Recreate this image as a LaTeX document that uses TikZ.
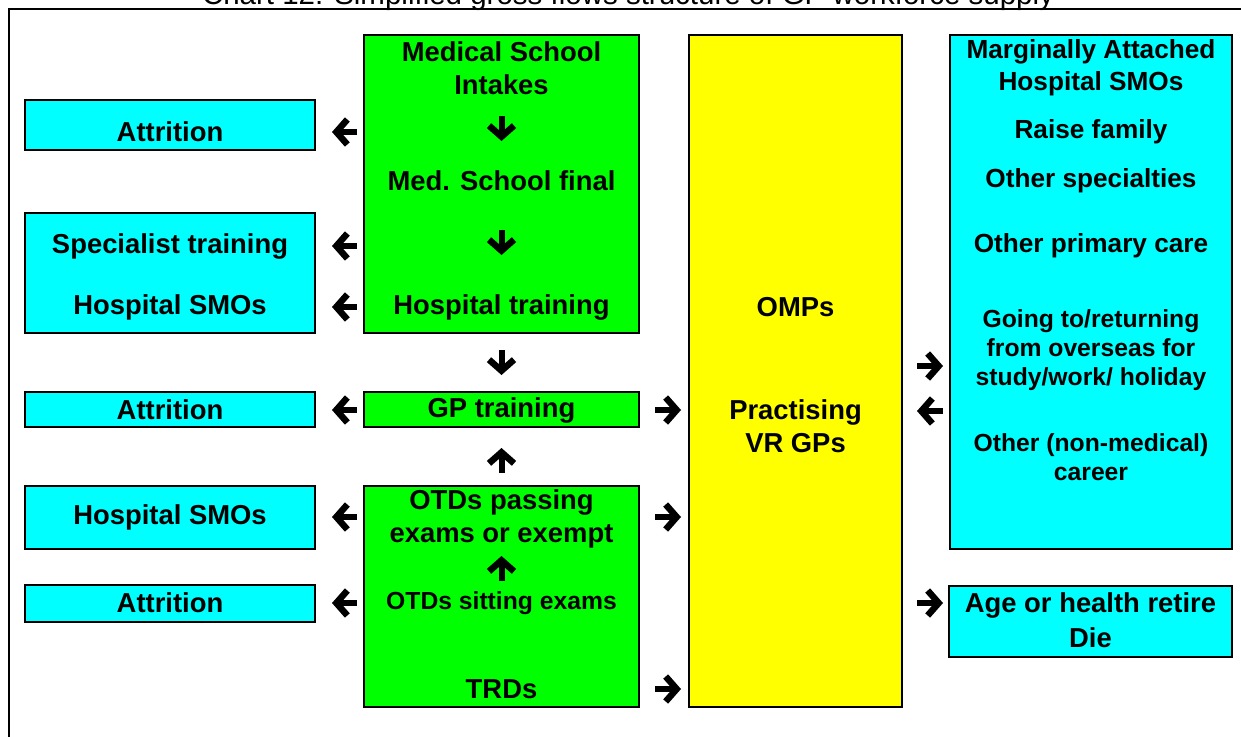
\documentclass[tikz,border=0pt]{standalone}
\usepackage{fontspec}
\setmainfont{Liberation Sans}
\usetikzlibrary{arrows.meta}
\definecolor{boxgreen}{HTML}{00FF00}
\definecolor{boxcyan}{HTML}{00FFFF}
\definecolor{boxyellow}{HTML}{FFFF00}

\begin{document}
\begin{tikzpicture}[x=1pt, y=-1pt,
    box/.style={draw, line width=2pt, inner sep=0pt},
    gbox/.style={box, fill=boxgreen, minimum width=275pt},
    lbox/.style={box, fill=boxcyan, minimum width=290pt},
    lbl/.style={font=\bfseries\fontsize{27.4}{32.5}\selectfont, align=center, inner sep=0pt},
    rlbl/.style={font=\bfseries\fontsize{26.2}{32}\selectfont, align=center, inner sep=0pt},
    sml/.style={font=\bfseries\fontsize{24.7}{29}\selectfont, align=center, inner sep=0pt},
    flow/.style={line width=6pt, -{Straight Barb[length=11pt, width=25pt, line width=6.5pt]}}]
  \useasboundingbox (0,0) rectangle (1241,736);
  % frame and title
  \draw[line width=2.5pt] (9,9) rectangle (1260,760);
  \node[anchor=base, inner sep=0pt, font=\fontsize{29.5}{34}\selectfont] (title) at (628,5)
    {Chart 12: Simplified gross flows structure of GP workforce supply};

  % green column
  \node[gbox, minimum height=298pt] (g1) at (501.5,184) {};
  \node[gbox, minimum height=35pt] (g2) at (501.5,409.5) {};
  \node[gbox, minimum height=221pt] (g3) at (501.5,596.5) {};
  \node[lbl] (intake) at (501.5,68) {Medical School\\Intakes};
  \node[lbl] (final) at (501.5,181) {Med. School final};
  \node[lbl] (hosp) at (501.5,307) {Hospital training};
  \node[lbl] (gp) at (501.5,410) {GP training};
  \node[lbl] (pass) at (501.5,519) {OTDs passing\\exams or exempt};
  \node[sml] (sit) at (501.5,603) {OTDs sitting exams};
  \node[lbl] (trd) at (501.5,689) {TRDs};

  % yellow column
  \node[box, fill=boxyellow, minimum width=213pt, minimum height=672pt] (yel) at (795.5,371) {};
  \node[lbl] (omp) at (795.5,307) {OMPs};
  \node[lbl, text depth=0pt] (vr) at (795.5,426) {Practising\\VR GPs};

  % left column
  \node[lbox, minimum height=50pt] (boxAttA) at (170,125) {};
  \node[lbox, minimum height=120pt] (boxSpec) at (170,273) {};
  \node[lbox, minimum height=35pt] (boxAttB) at (170,409.5) {};
  \node[lbox, minimum height=63pt] (boxHsmo) at (170,517.5) {};
  \node[lbox, minimum height=37pt] (boxAttC) at (170,603.5) {};
  \node[lbl] (attA) at (170,132) {Attrition};
  \node[lbl] (spec) at (170,246) {Specialist training};
  \node[lbl] (hsmoA) at (170,307) {Hospital SMOs};
  \node[lbl] (attB) at (170,410) {Attrition};
  \node[lbl] (hsmoB) at (170,517) {Hospital SMOs};
  \node[lbl] (attC) at (170,603) {Attrition};

  % right column
  \node[box, fill=boxcyan, minimum width=282pt, minimum height=514pt] (mag) at (1091,292) {};
  \node[box, fill=boxcyan, minimum width=283pt, minimum height=71pt] (age) at (1090.5,621.5) {};
  \node[rlbl] (marg) at (1091,68) {Marginally Attached\\Hospital SMOs};
  \node[rlbl] (family) at (1091,132) {Raise family};
  \node[rlbl] (otherspec) at (1091,181) {Other specialties};
  \node[rlbl] (primary) at (1091,246) {Other primary care};
  \node[sml] (going) at (1091,350) {Going to/returning\\from overseas for\\study/work/ holiday};
  \node[sml] (career) at (1091,457) {Other (non-medical)\\career};
  \node[lbl, font=\bfseries\fontsize{27.4}{35}\selectfont] (retire) at (1090.5,620) {Age or health retire\\Die};

  % flows down the green column
  \draw[flow, shorten <=48pt, shorten >=40pt] (intake.center) -- (final.center);
  \draw[flow, shorten <=49pt, shorten >=52pt] (final.center) -- (hosp.center);
  \draw[flow, shorten <=43pt, shorten >=35pt] (hosp.center) -- (gp.center);
  \draw[flow, shorten <=46pt, shorten >=38pt] (pass.center) -- (gp.center);
  \draw[flow, shorten <=22pt, shorten >=37pt] (sit.center) -- (pass.center);

  % outflows to the left
  \draw[flow, shorten <=6pt, shorten >=16pt] (g1.west |- attA) -- (boxAttA.east |- attA);
  \draw[flow, shorten <=6pt, shorten >=16pt] (g1.west |- spec) -- (boxSpec.east |- spec);
  \draw[flow, shorten <=6pt, shorten >=16pt] (g1.west |- hsmoA) -- (boxSpec.east |- hsmoA);
  \draw[flow, shorten <=6pt, shorten >=16pt] (g2.west |- attB) -- (boxAttB.east |- attB);
  \draw[flow, shorten <=6pt, shorten >=16pt] (g3.west |- hsmoB) -- (boxHsmo.east |- hsmoB);
  \draw[flow, shorten <=6pt, shorten >=16pt] (g3.west |- attC) -- (boxAttC.east |- attC);

  % into the workforce
  \draw[flow, shorten <=15pt, shorten >=7pt] (g2.east |- gp) -- (yel.west |- gp);
  \draw[flow, shorten <=15pt, shorten >=7pt] (g3.east |- hsmoB) -- (yel.west |- hsmoB);
  \draw[flow, shorten <=15pt, shorten >=7pt] (g3.east |- trd) -- (yel.west |- trd);

  % exchanges on the right
  \draw[flow, shorten <=14pt, shorten >=6pt] ([yshift=-16pt]yel.east |- going) -- ([yshift=-16pt]mag.west |- going);
  \draw[flow, shorten <=6pt, shorten >=14pt] ([yshift=-61pt]mag.west |- going) -- ([yshift=-61pt]yel.east |- going);
  \draw[flow, shorten <=14pt, shorten >=5pt] ([yshift=18.5pt]yel.east |- age.west) -- ([yshift=18.5pt]age.west);
\end{tikzpicture}
\end{document}
